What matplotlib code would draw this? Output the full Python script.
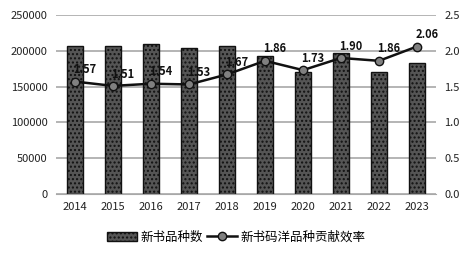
import matplotlib.pyplot as plt
import numpy as np

plt.rcParams['font.family'] = ['Noto Sans CJK SC', 'DejaVu Sans']

years = ['2014', '2015', '2016', '2017', '2018', '2019', '2020', '2021', '2022', '2023']
new_titles = [207000, 206500, 209500, 204500, 206500, 193000, 170800, 197300, 170800, 183400]
efficiency = [1.57, 1.51, 1.54, 1.53, 1.67, 1.86, 1.73, 1.90, 1.86, 2.06]

fig = plt.figure(figsize=(4.72, 2.57), dpi=100)
ax = fig.add_axes([56 / 472, 63 / 257, 380 / 472, 179 / 257])
ax2 = ax.twinx()

x = np.arange(len(years))
ax.bar(x, new_titles, width=0.4, color='#555555', edgecolor='#111111',
       linewidth=1.0, hatch='....', label='新书品种数', zorder=2)
ax.set_ylim(0, 250000)
ax.set_yticks(range(0, 250001, 50000))
ax.set_xlim(-0.5, len(years) - 0.5)
ax.set_xticks(x)
ax.set_xticklabels(years)
ax.yaxis.grid(True, color='#a8a8a8', linewidth=1.2, zorder=0)
ax.set_axisbelow(True)

ax2.plot(x, efficiency, color='#111111', linewidth=1.8, marker='o', markersize=6,
         markerfacecolor='#808080', markeredgecolor='#111111', markeredgewidth=1.0,
         label='新书码洋品种贡献效率', zorder=3)
ax2.set_ylim(0, 2.5)
ax2.set_yticks(np.arange(0, 2.51, 0.5))
ax2.set_yticklabels([f'{v:.1f}' for v in np.arange(0, 2.51, 0.5)])
for xi, v in zip(x, efficiency):
    ax2.annotate(f'{v:.2f}', (xi, v), xytext=(-1, 6), textcoords='offset points',
                 fontsize=8, fontweight='bold', color='#111111')

for a in (ax, ax2):
    for s in a.spines.values():
        s.set_visible(False)
    a.tick_params(length=0, labelsize=8, colors='#222222')
ax.tick_params(axis='x', pad=6)
ax.tick_params(axis='y', pad=6)
ax2.tick_params(axis='y', pad=6)
ax.spines['bottom'].set_visible(True)
ax.spines['bottom'].set_color('#a8a8a8')

h1, l1 = ax.get_legend_handles_labels()
h2, l2 = ax2.get_legend_handles_labels()
fig.legend(h1 + h2, l1 + l2, loc='center', bbox_to_anchor=(236 / 472, 1 - 237 / 257),
           ncol=2, frameon=False, fontsize=9, handlelength=2.4, columnspacing=0.3,
           handletextpad=0.3)

fig.savefig('out.png', dpi=100)
